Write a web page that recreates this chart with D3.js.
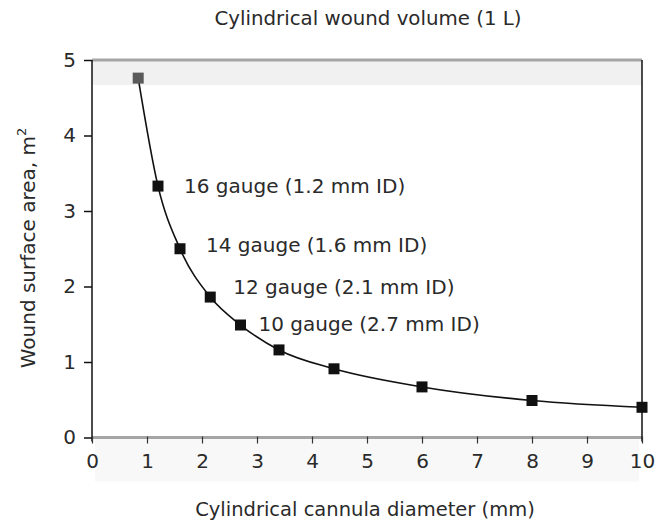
<!DOCTYPE html>
<html>
<head>
<meta charset="utf-8">
<script src="https://cdn.jsdelivr.net/npm/d3@7/dist/d3.min.js"></script>
<style>
  html, body { margin: 0; padding: 0; background: #fff; }
  svg text { font-family: "DejaVu Sans", "Noto Sans", sans-serif; fill: #2a2a2a; }
</style>
</head>
<body>
<svg id="chart" width="656" height="527"></svg>
<script>
// Cannula diameter (mm) and the wound surface area (m²) for a 1 L cylindrical wound
const diameters = [0.84, 1.2, 1.6, 2.15, 2.7, 3.4, 4.4, 6, 8, 10];
const areas     = [4.76, 3.33, 2.5, 1.86, 1.49, 1.16, 0.91, 0.67, 0.49, 0.40];
const gaugeLabels = [null, "16 gauge (1.2 mm ID)", "14 gauge (1.6 mm ID)", "12 gauge (2.1 mm ID)", "10 gauge (2.7 mm ID)", null, null, null, null, null];
const xTicks = [0, 1, 2, 3, 4, 5, 6, 7, 8, 9, 10];
const yTicks = [0, 1, 2, 3, 4, 5];

const titleText = "Cylindrical wound volume (1 L)";
const xTitle = "Cylindrical cannula diameter (mm)";

// label nudges (px) relative to each point
const labelDx = [0, 26, 26, 23, 18, 0, 0, 0, 0, 0], labelDy = [0, 0, -4, -10, -1, 0, 0, 0, 0, 0];

const svg = d3.select("#chart");
const x = d3.scaleLinear().domain([0, 10]).range([92, 642]);
const y = d3.scaleLinear().domain([0, 5]).range([437.5, 60]);

// faint shaded bands along top and bottom of the frame
svg.append("rect").attr("x", x(0)).attr("y", y(5)).attr("width", x(10) - x(0)).attr("height", 25).attr("fill", "#f1f1f1");
svg.append("rect").attr("x", x(0) + 3).attr("y", y(0)).attr("width", x(10) - x(0) - 6).attr("height", 44).attr("fill", "#f8f8f8");

// top and bottom grey rules
svg.append("line").attr("x1", x(0)).attr("x2", x(10)).attr("y1", y(5)).attr("y2", y(5)).attr("stroke", "#a5a5a5").attr("stroke-width", 3);
svg.append("line").attr("x1", x(0)).attr("x2", x(10)).attr("y1", y(0)).attr("y2", y(0)).attr("stroke", "#a5a5a5").attr("stroke-width", 3);

// left and right frame lines
svg.append("line").attr("x1", x(0)).attr("x2", x(0)).attr("y1", y(5)).attr("y2", y(0) + 4).attr("stroke", "#111").attr("stroke-width", 1.5);
svg.append("line").attr("x1", x(10)).attr("x2", x(10)).attr("y1", y(5)).attr("y2", y(0) + 4).attr("stroke", "#111").attr("stroke-width", 1.5);

// y axis
const yAxis = d3.axisLeft(y).tickValues(yTicks).tickSize(8).tickPadding(8).tickFormat(d3.format("d"));
const gy = svg.append("g").attr("transform", `translate(${x(0)},0)`).call(yAxis);
gy.select(".domain").remove();
gy.selectAll(".tick line").attr("stroke", "#111").attr("stroke-width", 1.5);
gy.selectAll(".tick text").attr("font-size", 20).style("fill", "#2a2a2a");

// x axis
const xAxis = d3.axisBottom(x).tickValues(xTicks).tickSize(7).tickPadding(10).tickFormat(d3.format("d"));
const gx = svg.append("g").attr("transform", `translate(0,${y(0) - 1})`).call(xAxis);
gx.select(".domain").remove();
gx.selectAll(".tick line").attr("stroke", "#333").attr("stroke-width", 1.2);
gx.selectAll(".tick text").attr("font-size", 20).style("fill", "#2a2a2a");

// curve
const pts = diameters.map((d, i) => ({ d, a: areas[i], label: gaugeLabels[i], dx: labelDx[i], dy: labelDy[i], i }));
const line = d3.line().x(p => x(p.d)).y(p => y(p.a)).curve(d3.curveMonotoneX);
svg.append("path").datum(pts).attr("d", line).attr("fill", "none").attr("stroke", "#111").attr("stroke-width", 1.6);

// markers
const s = 11;
svg.selectAll("rect.pt").data(pts).join("rect").attr("class", "pt")
  .attr("x", p => x(p.d) - s / 2).attr("y", p => y(p.a) - s / 2)
  .attr("width", s).attr("height", s)
  .attr("fill", p => p.i === 0 ? "#5a5a5a" : "#111");

// gauge labels
svg.selectAll("text.gauge").data(pts.filter(p => p.label)).join("text").attr("class", "gauge")
  .attr("x", p => x(p.d) + p.dx).attr("y", p => y(p.a) + p.dy)
  .attr("dominant-baseline", "central")
  .attr("font-size", 20).text(p => p.label);

// titles
svg.append("text").attr("x", 368).attr("y", 25).attr("text-anchor", "middle").attr("font-size", 19.8).text(titleText);
svg.append("text").attr("x", 365).attr("y", 516).attr("text-anchor", "middle").attr("font-size", 19.5).text(xTitle);
const yl = svg.append("text").attr("transform", "translate(35,248) rotate(-90)").attr("text-anchor", "middle").attr("font-size", 20);
yl.append("tspan").text("Wound surface area, m");
yl.append("tspan").attr("font-size", 13).attr("dy", -9).text("2");
</script>
</body>
</html>
